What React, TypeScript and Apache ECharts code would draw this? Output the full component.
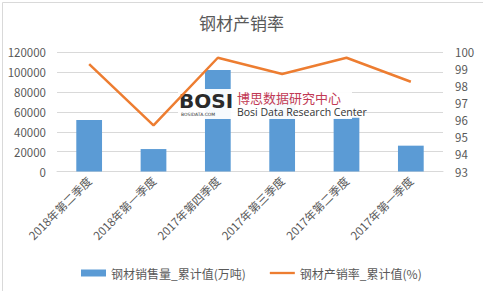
import React, { useEffect, useRef } from "react";
import * as echarts from "echarts";

const categories = ["2018年第二季度", "2018年第一季度", "2017年第四季度", "2017年第三季度", "2017年第二季度", "2017年第一季度"];
const salesValues = [51800, 22600, 102200, 77000, 54200, 26000];
const rateValues = [99.31, 95.71, 99.68, 98.73, 99.68, 98.27];
const seriesNames = ["钢材销售量_累计值(万吨)", "钢材产销率_累计值(%)"];
const titleText = "钢材产销率";

const FONT = "'Noto Sans CJK SC', 'Microsoft YaHei', sans-serif";
const GRAY = "#595959";

export default function App() {
  const ref = useRef<HTMLDivElement>(null);
  useEffect(() => {
    document.body.style.margin = "0";
    const chart = echarts.init(ref.current!, null, { renderer: "svg" });
    chart.setOption({
      animation: false,
      backgroundColor: "#ffffff",
      textStyle: { fontFamily: FONT },
      title: {
        text: titleText,
        left: "center",
        top: 9,
        textStyle: { fontFamily: FONT, fontSize: 17, fontWeight: "normal", color: GRAY },
      },
      grid: { left: 57, right: 40, top: 52.3, bottom: 119.5, containLabel: false },
      legend: {
        left: 76,
        top: 262,
        itemWidth: 25,
        itemHeight: 7,
        itemGap: 24,
        textStyle: { fontFamily: FONT, fontSize: 12, color: GRAY },
        data: [
          { name: seriesNames[0], icon: "rect" },
          { name: seriesNames[1], icon: "path://M0,0 L28,0 L28,2.6 L0,2.6 Z" },
        ],
      },
      xAxis: {
        type: "category",
        data: categories,
        axisTick: { show: false },
        axisLine: { show: true, lineStyle: { color: "#d9d9d9" } },
        axisLabel: { rotate: 45, margin: 7, fontFamily: FONT, fontSize: 11.5, color: GRAY },
      },
      yAxis: [
        {
          type: "value",
          min: 0,
          max: 120000,
          interval: 20000,
          axisLine: { show: false },
          axisTick: { show: false },
          splitLine: { lineStyle: { color: "#d9d9d9" } },
          axisLabel: { margin: 11, fontFamily: FONT, fontSize: 11.5, color: GRAY, formatter: (v: number) => String(v) },
        },
        {
          type: "value",
          min: 93,
          max: 100,
          interval: 1,
          axisLine: { show: false },
          axisTick: { show: false },
          splitLine: { show: false },
          axisLabel: { margin: 12, fontFamily: FONT, fontSize: 11.5, color: GRAY, formatter: (v: number) => String(v) },
        },
      ],
      series: [
        {
          name: seriesNames[0],
          type: "bar",
          data: salesValues,
          barWidth: "40%",
          itemStyle: { color: "#5b9bd5" },
          yAxisIndex: 0,
          z: 1,
        },
        {
          name: seriesNames[1],
          type: "line",
          data: rateValues,
          yAxisIndex: 1,
          symbol: "none",
          lineStyle: { color: "#ed7d31", width: 2.5 },
          itemStyle: { color: "#ed7d31" },
          zlevel: 2,
          z: 30,
        },
      ],
      graphic: [
        {
          type: "rect",
          left: 0,
          top: 0,
          shape: { width: 482, height: 290 },
          style: { fill: "none", stroke: "#d9d9d9", lineWidth: 1 },
          silent: true,
          z: 100,
        },
        {
          type: "rect",
          x: 178,
          y: 89,
          zlevel: 1,
          z: 10,
          shape: { x: 0, y: 0, width: 174, height: 30 },
          style: { fill: "#ffffff", opacity: 0.95 },
        },
        { type: "text", zlevel: 1, z: 11, x: 179, y: 91, style: { text: "BOSI", fontFamily: "DejaVu Sans", fontWeight: "bold", fontSize: 20, fill: "#2a2a2a" } },
        { type: "text", zlevel: 1, z: 11, x: 181, y: 112, style: { text: "BOSIDATA.COM", fontFamily: "DejaVu Sans", fontSize: 4.5, fill: "#333" } },
        { type: "text", zlevel: 1, z: 11, x: 237, y: 90, style: { text: "博思数据研究中心", fontFamily: FONT, fontSize: 13, lineHeight: 14, fill: "#c23a55" } },
        { type: "text", zlevel: 1, z: 11, x: 237, y: 106, style: { text: "Bosi Data Research Center", fontFamily: "'Open Sans', sans-serif", fontSize: 10.5, lineHeight: 12, fill: "#333" } },
      ],
    });
    return () => chart.dispose();
  }, []);
  return <div ref={ref} style={{ width: 483, height: 291 }} />;
}
